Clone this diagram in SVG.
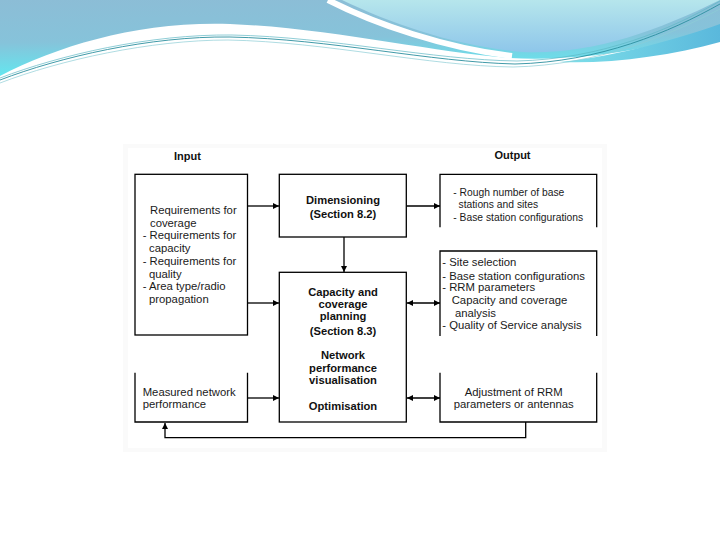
<svg xmlns="http://www.w3.org/2000/svg" width="720" height="540" viewBox="0 0 720 540">
<defs>
<linearGradient id="gBlue" x1="0" y1="0" x2="0.15" y2="1">
<stop offset="0" stop-color="#8cbdd6"/>
<stop offset="0.55" stop-color="#86c3da"/>
<stop offset="1" stop-color="#62e8f0"/>
</linearGradient>
<linearGradient id="gOval" x1="0" y1="0" x2="0" y2="1">
<stop offset="0" stop-color="#b6e6ec"/>
<stop offset="1" stop-color="#8ec6ea"/>
</linearGradient>
<linearGradient id="gBand" x1="0" y1="0" x2="1" y2="0">
<stop offset="0" stop-color="#7ee0ea"/>
<stop offset="1" stop-color="#5ab8dc"/>
</linearGradient>
<marker id="ah" viewBox="0 0 10 10" refX="10" refY="5" markerWidth="6" markerHeight="6" orient="auto-start-reverse" markerUnits="userSpaceOnUse">
<path d="M0,0 L10,5 L0,10 Z" fill="#000"/>
</marker>
<style>
.box{fill:#fff;stroke:#000;stroke-width:1.3}
.open{fill:none;stroke:#000;stroke-width:1.3}
.con{fill:none;stroke:#000;stroke-width:1.3}
.t{font-family:"Liberation Sans",Arial,sans-serif;font-size:11.3px;fill:#1a1a1a}
.o1{font-family:"Liberation Sans",Arial,sans-serif;font-size:10.3px;fill:#1a1a1a}
.b{font-family:"Liberation Sans",Arial,sans-serif;font-size:11.2px;font-weight:bold;fill:#111;text-anchor:middle}
.h{font-family:"Liberation Sans",Arial,sans-serif;font-size:11px;font-weight:bold;fill:#111;text-anchor:middle}
</style>
</defs>
<rect x="0" y="0" width="720" height="540" fill="#fff"/>
<g id="header">
<path d="M0,0 H720 V28 C660,48 580,62 510,58 C430,52 330,28 230,24 C140,21 60,45 0,76 Z" fill="url(#gBlue)"/>
<path d="M560,62 C620,56 680,38 720,24 V42 C670,56 610,64 560,62 Z" fill="url(#gBand)"/>
<path d="M328,0 C375,24 445,48 512,56" fill="none" stroke="#fff" stroke-width="6"/>
<path d="M342,0 C392,24 455,46 522,52 C590,55 655,32 720,0 Z" fill="url(#gOval)"/>
<path d="M0,80 C60,57 150,36 230,37 C330,39 430,62 515,64 C600,62 670,32 720,4" fill="none" stroke="#2b8f9e" stroke-width="0.9"/>
<path d="M0,78 C60,55 150,34 232,35 C332,37 432,60 517,61 C602,59 672,29 720,1" fill="none" stroke="#5fb7c4" stroke-width="0.7"/>
<path d="M0,83 C60,60 150,40 228,40 C328,42 428,66 513,67 C598,65 668,36 720,9" fill="none" stroke="#8ccdd6" stroke-width="0.7"/>
</g>
<rect x="123" y="144" width="484" height="308" fill="#fafafa"/>
<rect x="128" y="148" width="474" height="300" fill="#fff"/>
<text class="h" x="187.5" y="160">Input</text>
<text class="h" x="512.5" y="158.5">Output</text>
<g id="connectors">
<line class="con" x1="247.5" y1="206" x2="279" y2="206" marker-end="url(#ah)"/>
<line class="con" x1="247.5" y1="303" x2="279" y2="303" marker-end="url(#ah)"/>
<line class="con" x1="344" y1="237" x2="344" y2="272" marker-end="url(#ah)"/>
<line class="con" x1="406.5" y1="206" x2="440" y2="206" marker-end="url(#ah)"/>
<line class="con" x1="407" y1="303" x2="440" y2="303" marker-start="url(#ah)" marker-end="url(#ah)"/>
<line class="con" x1="247.5" y1="398" x2="279" y2="398" marker-end="url(#ah)"/>
<line class="con" x1="407" y1="398" x2="440" y2="398" marker-start="url(#ah)" marker-end="url(#ah)"/>
<path class="con" d="M525.7,422 V437.7 H165 V423" marker-end="url(#ah)"/>
</g>
<g id="requirements">
<rect class="box" x="135" y="174.3" width="112.5" height="160.7"/>
<text class="t" x="150" y="214">Requirements for</text>
<text class="t" x="150" y="227">coverage</text>
<text class="t" x="142.7" y="239">- Requirements for</text>
<text class="t" x="149" y="252">capacity</text>
<text class="t" x="142.7" y="265">- Requirements for</text>
<text class="t" x="149" y="278">quality</text>
<text class="t" x="142.7" y="290">- Area type/radio</text>
<text class="t" x="149" y="303">propagation</text>
</g>
<g id="measured">
<path class="open" d="M135,372.7 V422 H247.5 V372.7"/>
<text class="t" x="142.7" y="395.5">Measured network</text>
<text class="t" x="142.7" y="407.5">performance</text>
</g>
<g id="dimensioning">
<rect class="box" x="279.3" y="174.3" width="127" height="62.7"/>
<text class="b" x="343" y="204">Dimensioning</text>
<text class="b" x="343" y="217.5">(Section 8.2)</text>
</g>
<g id="planning">
<rect class="box" x="279.3" y="272.3" width="127" height="149.7"/>
<text class="b" x="343" y="295.5">Capacity and</text>
<text class="b" x="343" y="307.5">coverage</text>
<text class="b" x="343" y="320">planning</text>
<text class="b" x="343" y="335">(Section 8.3)</text>
<text class="b" x="343" y="359">Network</text>
<text class="b" x="343" y="371.5">performance</text>
<text class="b" x="343" y="384">visualisation</text>
<text class="b" x="343" y="409.5">Optimisation</text>
</g>
<g id="output1">
<path class="open" d="M440,227.3 V174.3 H596.7 V227.3"/>
<text class="o1" x="453.3" y="196">- Rough number of base</text>
<text class="o1" x="458.5" y="208">stations and sites</text>
<text class="o1" x="453.3" y="221">- Base station configurations</text>
</g>
<g id="output2">
<path class="open" d="M440,336 V251 H596.7 V336"/>
<text class="t" x="442.3" y="265.5">- Site selection</text>
<text class="t" x="442.3" y="279.5">- Base station configurations</text>
<text class="t" x="442.3" y="290.5">- RRM parameters</text>
<text class="t" x="451.7" y="304">Capacity and coverage</text>
<text class="t" x="455" y="317">analysis</text>
<text class="t" x="442.3" y="329">- Quality of Service analysis</text>
</g>
<g id="output3">
<path class="open" d="M440,372.7 V422 H596.7 V372.7"/>
<text class="t" x="513.7" y="395.5" text-anchor="middle">Adjustment of RRM</text>
<text class="t" x="513.7" y="407.5" text-anchor="middle">parameters or antennas</text>
</g>
</svg>
